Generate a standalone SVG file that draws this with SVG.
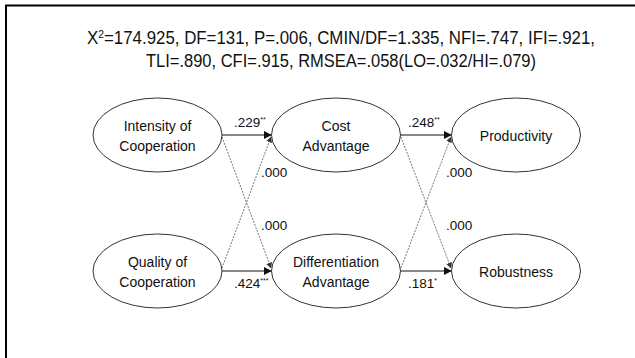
<svg xmlns="http://www.w3.org/2000/svg" width="635" height="358" viewBox="0 0 635 358">
<defs>
<style>
text{font-family:"Liberation Sans","Noto Sans",sans-serif;fill:#111}
.node ellipse{fill:#fff;stroke:#333;stroke-width:1}
.node text{font-size:14px;text-anchor:middle}
.title{font-size:18px;text-anchor:middle}
.lbl{font-size:13.5px}
.sup{font-size:7px}
.solid{stroke:#111;stroke-width:1.2;fill:none;marker-end:url(#ah)}
.dash{stroke:#555;stroke-width:0.8;stroke-dasharray:2 1.2;fill:none;marker-end:url(#ah2)}
</style>
<marker id="ah" viewBox="0 0 10 10" refX="9" refY="5" markerWidth="8" markerHeight="8" markerUnits="userSpaceOnUse" orient="auto"><path d="M0,0 L10,5 L0,10 z" fill="#111"/></marker>
<marker id="ah2" viewBox="0 0 10 10" refX="9" refY="5" markerWidth="6" markerHeight="6" markerUnits="userSpaceOnUse" orient="auto"><path d="M0,0 L10,5 L0,10 z" fill="#333"/></marker>
</defs>
<rect width="635" height="358" fill="#fff"/>
<path d="M6,358 V5.5 H635" fill="none" stroke="#000" stroke-width="2"/>
<g id="title">
<text class="title" x="341" y="44" textLength="508" lengthAdjust="spacingAndGlyphs">X<tspan font-size="11" dy="-6">2</tspan><tspan dy="6">=174.925, DF=131, P=.006, CMIN/DF=1.335, NFI=.747, IFI=.921,</tspan></text>
<text class="title" x="341" y="67" textLength="390" lengthAdjust="spacingAndGlyphs">TLI=.890, CFI=.915, RMSEA=.058(LO=.032/HI=.079)</text>
</g>
<g id="connectors">
<line class="solid" x1="222" y1="135" x2="271" y2="135"/>
<line class="dash" x1="222" y1="137" x2="271" y2="268"/>
<line class="dash" x1="222" y1="268" x2="271" y2="137"/>
<line class="solid" x1="222" y1="271" x2="271" y2="271"/>
<line class="solid" x1="401" y1="135" x2="451" y2="135"/>
<line class="dash" x1="401" y1="137" x2="451" y2="268"/>
<line class="dash" x1="401" y1="268" x2="451" y2="137"/>
<line class="solid" x1="401" y1="271" x2="451" y2="271"/>
</g>
<g id="labels">
<text class="lbl" x="234" y="127">.229<tspan class="sup" dy="-5">**</tspan></text>
<text class="lbl" x="261" y="177">.000</text>
<text class="lbl" x="261" y="230">.000</text>
<text class="lbl" x="234" y="288">.424<tspan class="sup" dy="-5">***</tspan></text>
<text class="lbl" x="408" y="127">.248<tspan class="sup" dy="-5">**</tspan></text>
<text class="lbl" x="446" y="177">.000</text>
<text class="lbl" x="446" y="230">.000</text>
<text class="lbl" x="408" y="288">.181<tspan class="sup" dy="-5">*</tspan></text>
</g>
<g id="intensity" class="node"><ellipse cx="157.5" cy="135" rx="64.5" ry="37"/><text x="157.5" y="131">Intensity of</text><text x="157.5" y="151">Cooperation</text></g>
<g id="quality" class="node"><ellipse cx="157.5" cy="271" rx="64.5" ry="37"/><text x="157.5" y="267">Quality of</text><text x="157.5" y="287">Cooperation</text></g>
<g id="cost" class="node"><ellipse cx="336" cy="135" rx="64.5" ry="37"/><text x="336" y="131">Cost</text><text x="336" y="151">Advantage</text></g>
<g id="differentiation" class="node"><ellipse cx="336" cy="271" rx="64.5" ry="37"/><text x="336" y="267">Differentiation</text><text x="336" y="287">Advantage</text></g>
<g id="productivity" class="node"><ellipse cx="516" cy="135" rx="64.5" ry="37"/><text x="516" y="141">Productivity</text></g>
<g id="robustness" class="node"><ellipse cx="516" cy="271" rx="64.5" ry="37"/><text x="516" y="277">Robustness</text></g>
</svg>
